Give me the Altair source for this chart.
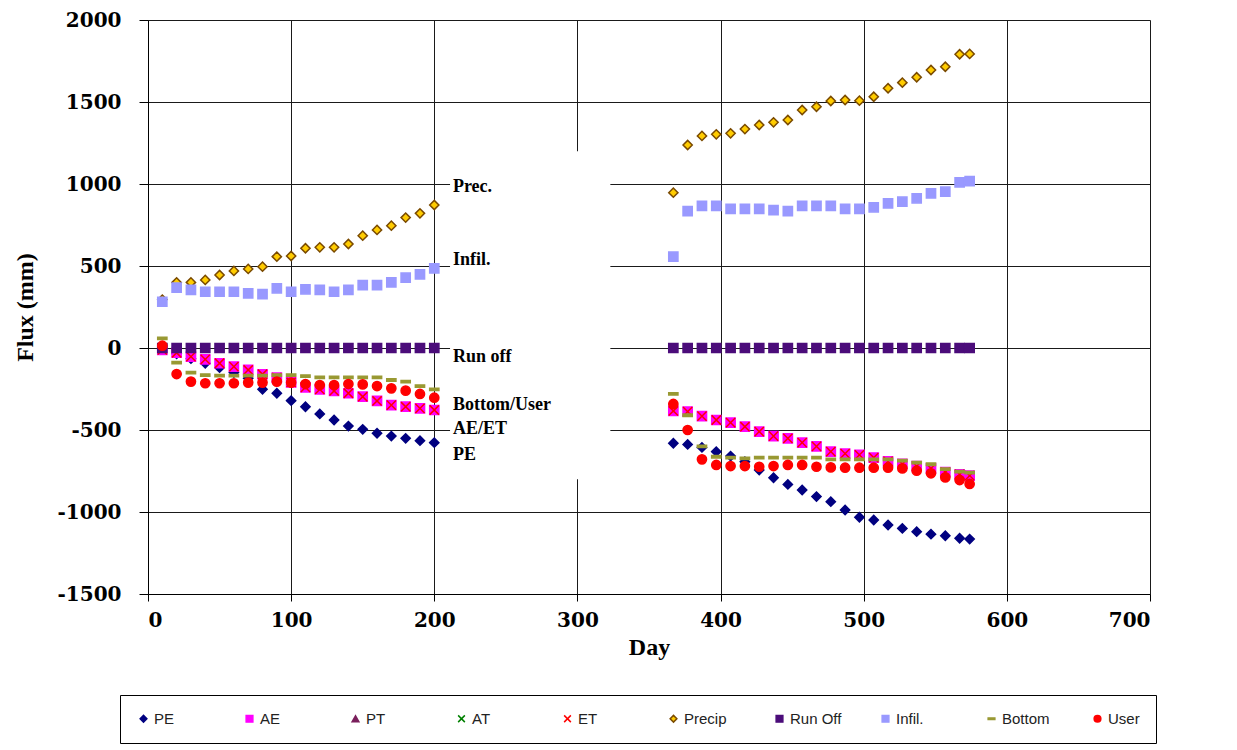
import altair as alt
import pandas as pd

# ---------------- data ----------------
series = ["PE", "AE", "PT", "AT", "ET", "Precip", "Run Off", "Infil.", "Bottom", "User"]

days_left = [10, 20, 30, 40, 50, 60, 70, 80, 90, 100,
             110, 120, 130, 140, 150, 160, 170, 180, 190, 200]
days_right = [367, 377, 387, 397, 407, 417, 427, 437, 447, 457, 467,
              477, 487, 497, 507, 517, 527, 537, 547, 557, 567, 574]

pe_left = [-5, -35, -65, -93, -120, -150, -185, -252, -276, -321,
           -358, -402, -439, -476, -496, -520, -537, -551, -565, -577]
pe_right = [-581, -588, -606, -632, -659, -693, -744, -791, -832, -866, -906,
            -937, -988, -1032, -1049, -1079, -1100, -1120, -1135, -1145, -1160, -1165]

ae_left = [-12, -29, -53, -69, -93, -114, -134, -160, -181, -210,
           -240, -252, -262, -276, -297, -323, -348, -358, -368, -378]
ae_right = [-384, -388, -415, -439, -455, -480, -510, -537, -551, -577, -600,
            -632, -644, -652, -668, -691, -707, -720, -734, -757, -770, -778]

et_left = [-12, -29, -53, -69, -93, -114, -134, -160, -181, -210,
           -240, -252, -262, -276, -297, -323, -348, -358, -368, -378]
et_right = [-384, -388, -415, -439, -455, -480, -510, -537, -551, -577, -600,
            -632, -644, -652, -668, -691, -707, -720, -734, -757, -770, -778]

prec_left = [295, 400, 400, 415, 445, 470, 482, 496, 557, 561,
             608, 614, 614, 634, 685, 720, 746, 795, 821, 872]
prec_right = [947, 1238, 1293, 1303, 1309, 1335, 1360, 1376, 1390, 1451, 1471,
              1506, 1512, 1508, 1532, 1584, 1618, 1651, 1695, 1715, 1791, 1793]

runoff_left = [0] * 20
runoff_right = [0] * 22

infil_left = [282, 368, 354, 343, 343, 343, 333, 329, 364, 343,
              358, 354, 343, 354, 384, 384, 400, 429, 449, 486]
infil_right = [557, 835, 866, 866, 848, 848, 848, 841, 835, 866, 866,
               866, 848, 848, 858, 882, 892, 913, 943, 953, 1010, 1018]

bottom_left = [59, -89, -150, -165, -169, -169, -169, -169, -165, -165,
               -171, -179, -179, -179, -179, -179, -195, -205, -232, -252]
bottom_right = [-280, -410, -600, -663, -669, -673, -669, -669, -669, -669, -669,
                -679, -679, -679, -679, -679, -687, -699, -709, -738, -754, -760]

user_left = [14, -159, -205, -215, -215, -215, -211, -211, -205, -211,
             -220, -226, -226, -220, -222, -232, -246, -260, -280, -303]
user_right = [-341, -500, -679, -713, -720, -720, -724, -720, -713, -713, -724,
              -728, -730, -730, -730, -730, -734, -748, -764, -789, -805, -829]

# annotation labels next to the left block
ann_labels = ["Prec.", "Infil.", "Run off", "Bottom/User", "AE/ET", "PE"]
ann_flux = [984, 537, -53, -348, -496, -652]
ann_day = [213, 213, 213, 213, 213, 213]

# blank band that hides the grid between the two periods
gap_day = [211, 323]
gap_flux = [1200, -800]

# ---------------- styling ----------------
fills = ["#000080", "#FF00FF", "#7A1F5C", "transparent", "transparent",
         "#FFCC00", "#4B0C7A", "#9999FF", "#999933", "#FF0000"]
strokes = ["#000080", "#FF00FF", "#7A1F5C", "#008000", "#FF0000",
           "#7A4A00", "#4B0C7A", "#9999FF", "#999933", "#FF0000"]
shapes = ["diamond", "square", "triangle-up",
          "M-1,-1L1,1M-1,1L1,-1", "M-1,-1L1,1M-1,1L1,-1",
          "diamond", "square", "square",
          "M-1,-0.25L1,-0.25L1,0.25L-1,0.25Z", "circle"]

table = {
    "PE": (pe_left, pe_right), "AE": (ae_left, ae_right),
    "ET": (et_left, et_right), "Precip": (prec_left, prec_right),
    "Run Off": (runoff_left, runoff_right), "Infil.": (infil_left, infil_right),
    "Bottom": (bottom_left, bottom_right), "User": (user_left, user_right),
}
rows = []
for s in series:
    if s not in table:
        continue
    left, right = table[s]
    for d, v in zip(days_left, left):
        rows.append({"day": d, "flux": v, "series": s})
    for d, v in zip(days_right, right):
        rows.append({"day": d, "flux": v, "series": s})
df = pd.DataFrame(rows)

xscale = alt.Scale(domain=[0, 700], nice=False)
yscale = alt.Scale(domain=[-1500, 2000], nice=False)

leg = alt.Legend(
    title=None, orient="none", legendX=-28, legendY=675, direction="horizontal",
    columns=10, gridAlign="all", columnPadding=36,
    labelFont="Liberation Sans", labelFontSize=15, labelColor="#222",
    symbolSize=45, symbolStrokeWidth=1.5, labelOffset=3,
    strokeColor="#000", padding=16, fillColor="white",
)

common_axis = dict(grid=True, gridColor="#1a1a1a", gridWidth=1, gridOpacity=1,
                   domainColor="#000", domainWidth=1, tickColor="#000", tickWidth=1,
                   labelFont="DejaVu Serif", labelFontWeight="bold",
                   labelFontSize=20, labelColor="#000", titleFont="Liberation Serif",
                   titleFontWeight="bold", titleFontSize=24, titleColor="#000",
                   labelExpr="toString(datum.value)")

xaxis = alt.Axis(values=[0, 100, 200, 300, 400, 500, 600, 700], tickSize=7,
                 labelPadding=9, titleY=53, titleBaseline="middle", **common_axis)
yaxis = alt.Axis(values=[-1500, -1000, -500, 0, 500, 1000, 1500, 2000], tickSize=9,
                 labelPadding=18, titleX=-123, titleY=287, titleBaseline="middle",
                 titleAngle=270, titleAlign="center", **common_axis)

mask = alt.Chart(pd.DataFrame({"x": [gap_day[0]], "x2": [gap_day[1]],
                               "y": [gap_flux[0]], "y2": [gap_flux[1]]})).mark_rect(
    color="white", opacity=1
).encode(
    x=alt.X("x:Q", scale=xscale, axis=xaxis, title="Day"),
    x2="x2:Q",
    y=alt.Y("y:Q", scale=yscale, axis=yaxis, title="Flux (mm)"),
    y2="y2:Q",
)

points = alt.Chart(df).mark_point(filled=True, size=85, strokeWidth=1.5, opacity=1).encode(
    x=alt.X("day:Q", scale=xscale, axis=xaxis, title="Day"),
    y=alt.Y("flux:Q", scale=yscale, axis=yaxis, title="Flux (mm)"),
    shape=alt.Shape("series:N", scale=alt.Scale(domain=series, range=shapes), legend=leg),
    fill=alt.Fill("series:N", scale=alt.Scale(domain=series, range=fills), legend=leg),
    stroke=alt.Stroke("series:N", scale=alt.Scale(domain=series, range=strokes), legend=leg),
)

ann = alt.Chart(pd.DataFrame({"day": ann_day, "flux": ann_flux, "label": ann_labels})).mark_text(
    align="left", baseline="middle", font="Liberation Serif", fontWeight="bold",
    fontSize=18, color="#000"
).encode(
    x=alt.X("day:Q", scale=xscale),
    y=alt.Y("flux:Q", scale=yscale),
    text="label:N",
)

chart = alt.layer(mask, points, ann).properties(
    width=1002, height=574,
    autosize=alt.AutoSizeParams(type="none"),
    padding={"left": 140, "top": 12, "right": 60, "bottom": 150},
).configure_view(
    stroke="#000", strokeWidth=1
).configure(background="white")

chart.save("out.html", embed_options={"renderer": "svg", "actions": False})
